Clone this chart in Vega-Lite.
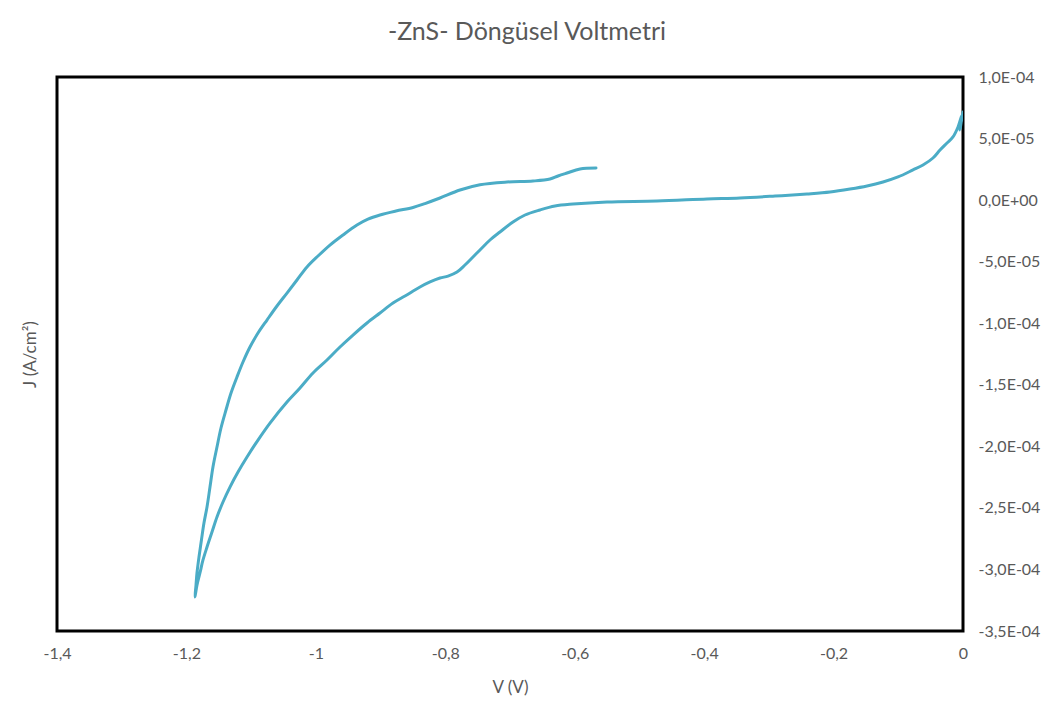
{
  "$schema": "https://vega.github.io/schema/vega-lite/v6.json",
  "width": 906,
  "height": 554,
  "autosize": {"type": "none"},
  "padding": {"left": 57, "top": 77, "right": 84, "bottom": 86},
  "background": "white",
  "config": {
    "locale": {"number": {"decimal": ",", "thousands": ".", "grouping": [3], "currency": ["", " €"], "minus": "-"}},
    "view": {"stroke": "black", "strokeWidth": 3},
    "font": "Lato"
  },
  "title": {
    "text": "-ZnS- Döngüsel Voltmetri",
    "fontSize": 25,
    "fontWeight": "normal",
    "color": "#595959",
    "font": "Lato",
    "anchor": "middle",
    "dx": 17,
    "offset": 24
  },
  "data": {
    "values": [
      {"i": 1, "v": 0, "j": 7.16e-5},
      {"i": 2, "v": -0.0046, "j": 5.69e-5},
      {"i": 3, "v": -0.0015, "j": 6.91e-5},
      {"i": 4, "v": -0.0077, "j": 5.94e-5},
      {"i": 5, "v": -0.0155, "j": 5.13e-5},
      {"i": 6, "v": -0.0247, "j": 4.64e-5},
      {"i": 7, "v": -0.0355, "j": 4.07e-5},
      {"i": 8, "v": -0.0464, "j": 3.42e-5},
      {"i": 9, "v": -0.0618, "j": 2.85e-5},
      {"i": 10, "v": -0.0773, "j": 2.45e-5},
      {"i": 11, "v": -0.1004, "j": 1.88e-5},
      {"i": 12, "v": -0.1236, "j": 1.47e-5},
      {"i": 13, "v": -0.1483, "j": 1.15e-5},
      {"i": 14, "v": -0.1746, "j": 0.90e-5},
      {"i": 15, "v": -0.2055, "j": 0.66e-5},
      {"i": 16, "v": -0.2411, "j": 0.50e-5},
      {"i": 17, "v": -0.2905, "j": 0.33e-5},
      {"i": 18, "v": -0.3446, "j": 0.17e-5},
      {"i": 19, "v": -0.3956, "j": 0.09e-5},
      {"i": 20, "v": -0.4729, "j": -0.07e-5},
      {"i": 21, "v": -0.5501, "j": -0.15e-5},
      {"i": 22, "v": -0.6027, "j": -0.32e-5},
      {"i": 23, "v": -0.6305, "j": -0.48e-5},
      {"i": 24, "v": -0.6537, "j": -0.80e-5},
      {"i": 25, "v": -0.6768, "j": -1.21e-5},
      {"i": 26, "v": -0.6954, "j": -1.78e-5},
      {"i": 27, "v": -0.7155, "j": -2.59e-5},
      {"i": 28, "v": -0.7309, "j": -3.24e-5},
      {"i": 29, "v": -0.7464, "j": -4.05e-5},
      {"i": 30, "v": -0.7572, "j": -4.62e-5},
      {"i": 31, "v": -0.7696, "j": -5.27e-5},
      {"i": 32, "v": -0.7819, "j": -5.84e-5},
      {"i": 33, "v": -0.7958, "j": -6.17e-5},
      {"i": 34, "v": -0.8082, "j": -6.33e-5},
      {"i": 35, "v": -0.8236, "j": -6.65e-5},
      {"i": 36, "v": -0.8391, "j": -7.06e-5},
      {"i": 37, "v": -0.8623, "j": -7.79e-5},
      {"i": 38, "v": -0.8808, "j": -8.36e-5},
      {"i": 39, "v": -0.9009, "j": -9.17e-5},
      {"i": 40, "v": -0.9210, "j": -9.98e-5},
      {"i": 41, "v": -0.9426, "j": -10.96e-5},
      {"i": 42, "v": -0.9627, "j": -11.93e-5},
      {"i": 43, "v": -0.9828, "j": -12.99e-5},
      {"i": 44, "v": -1.0044, "j": -14.04e-5},
      {"i": 45, "v": -1.0245, "j": -15.26e-5},
      {"i": 46, "v": -1.0446, "j": -16.40e-5},
      {"i": 47, "v": -1.0709, "j": -18.11e-5},
      {"i": 48, "v": -1.0894, "j": -19.49e-5},
      {"i": 49, "v": -1.1064, "j": -20.87e-5},
      {"i": 50, "v": -1.1203, "j": -22.09e-5},
      {"i": 51, "v": -1.1327, "j": -23.31e-5},
      {"i": 52, "v": -1.1435, "j": -24.52e-5},
      {"i": 53, "v": -1.1528, "j": -25.74e-5},
      {"i": 54, "v": -1.1605, "j": -26.96e-5},
      {"i": 55, "v": -1.1682, "j": -28.18e-5},
      {"i": 56, "v": -1.1744, "j": -29.23e-5},
      {"i": 57, "v": -1.1791, "j": -30.29e-5},
      {"i": 58, "v": -1.1837, "j": -31.27e-5},
      {"i": 59, "v": -1.1868, "j": -32.24e-5},
      {"i": 60, "v": -1.1852, "j": -31.27e-5},
      {"i": 61, "v": -1.1837, "j": -30.29e-5},
      {"i": 62, "v": -1.1806, "j": -28.99e-5},
      {"i": 63, "v": -1.1768, "j": -27.61e-5},
      {"i": 64, "v": -1.1729, "j": -26.23e-5},
      {"i": 65, "v": -1.1682, "j": -24.93e-5},
      {"i": 66, "v": -1.1636, "j": -23.31e-5},
      {"i": 67, "v": -1.1590, "j": -21.68e-5},
      {"i": 68, "v": -1.1528, "j": -20.06e-5},
      {"i": 69, "v": -1.1466, "j": -18.51e-5},
      {"i": 70, "v": -1.1389, "j": -17.05e-5},
      {"i": 71, "v": -1.1311, "j": -15.67e-5},
      {"i": 72, "v": -1.1219, "j": -14.37e-5},
      {"i": 73, "v": -1.1126, "j": -13.15e-5},
      {"i": 74, "v": -1.1018, "j": -11.93e-5},
      {"i": 75, "v": -1.0894, "j": -10.80e-5},
      {"i": 76, "v": -1.0755, "j": -9.74e-5},
      {"i": 77, "v": -1.0601, "j": -8.60e-5},
      {"i": 78, "v": -1.0446, "j": -7.55e-5},
      {"i": 79, "v": -1.0292, "j": -6.49e-5},
      {"i": 80, "v": -1.0137, "j": -5.43e-5},
      {"i": 81, "v": -0.9967, "j": -4.54e-5},
      {"i": 82, "v": -0.9782, "j": -3.65e-5},
      {"i": 83, "v": -0.9581, "j": -2.83e-5},
      {"i": 84, "v": -0.9365, "j": -2.02e-5},
      {"i": 85, "v": -0.9195, "j": -1.54e-5},
      {"i": 86, "v": -0.9009, "j": -1.21e-5},
      {"i": 87, "v": -0.8762, "j": -0.89e-5},
      {"i": 88, "v": -0.8499, "j": -0.60e-5},
      {"i": 89, "v": -0.8314, "j": -0.28e-5},
      {"i": 90, "v": -0.8082, "j": 0.17e-5},
      {"i": 91, "v": -0.7773, "j": 0.82e-5},
      {"i": 92, "v": -0.7464, "j": 1.25e-5},
      {"i": 93, "v": -0.7047, "j": 1.47e-5},
      {"i": 94, "v": -0.6645, "j": 1.55e-5},
      {"i": 95, "v": -0.6382, "j": 1.71e-5},
      {"i": 96, "v": -0.6258, "j": 1.96e-5},
      {"i": 97, "v": -0.6119, "j": 2.20e-5},
      {"i": 98, "v": -0.5918, "j": 2.53e-5},
      {"i": 99, "v": -0.5671, "j": 2.61e-5}
    ]
  },
  "mark": {"type": "line", "color": "#4BACC6", "strokeWidth": 3, "strokeCap": "round", "strokeJoin": "round", "interpolate": "catmull-rom", "clip": true},
  "encoding": {
    "order": {"field": "i", "type": "quantitative"},
    "x": {
      "field": "v",
      "type": "quantitative",
      "scale": {"domain": [-1.4, 0], "nice": false, "zero": false},
      "axis": {
        "title": "V (V)",
        "values": [-1.4, -1.2, -1, -0.8, -0.6, -0.4, -0.2, 0],
        "format": "~g",
        "grid": false,
        "domain": false,
        "ticks": false,
        "tickSize": 0,
        "labelPadding": 14,
        "labelFlush": false,
        "labelFontSize": 16,
        "labelColor": "#595959",
        "labelFont": "Lato",
        "titleFontSize": 17,
        "titleFontWeight": "normal",
        "titleColor": "#595959",
        "titleFont": "Lato",
        "titleBaseline": "middle",
        "titleY": 56
      }
    },
    "y": {
      "field": "j",
      "type": "quantitative",
      "scale": {"domain": [-0.00035, 0.0001], "nice": false, "zero": false},
      "axis": {
        "orient": "right",
        "title": "J (A/cm²)",
        "values": [-0.00035, -0.0003, -0.00025, -0.0002, -0.00015, -0.0001, -0.00005, 0, 0.00005, 0.0001],
        "labelExpr": "replace(replace(format(datum.value, '.1e'), 'e-', 'E-0'), 'e+', 'E+0')",
        "grid": false,
        "domain": false,
        "ticks": false,
        "tickSize": 0,
        "labelPadding": 15,
        "labelFlush": false,
        "labelFontSize": 16,
        "labelColor": "#595959",
        "labelFont": "Lato",
        "titleFontSize": 17,
        "titleFontWeight": "normal",
        "titleColor": "#595959",
        "titleFont": "Lato",
        "titleAngle": 270,
        "titleAlign": "center",
        "titleBaseline": "middle",
        "titleX": -933,
        "titleY": 277
      }
    }
  }
}
